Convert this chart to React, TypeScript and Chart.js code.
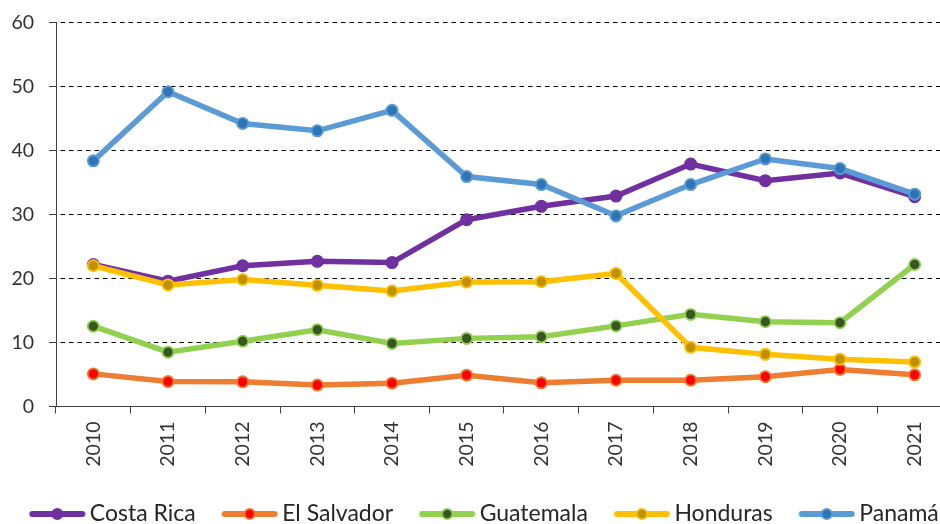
import React, { useEffect, useRef } from "react";
import { Chart, registerables } from "chart.js";

Chart.register(...registerables);

const years = ["2010", "2011", "2012", "2013", "2014", "2015", "2016", "2017", "2018", "2019", "2020", "2021"];
const seriesNames = ["Costa Rica", "El Salvador", "Guatemala", "Honduras", "Panamá"];
const costaRica = [22.2, 19.6, 22.0, 22.7, 22.5, 29.2, 31.3, 32.9, 37.9, 35.3, 36.5, 32.8];
const elSalvador = [5.1, 3.9, 3.85, 3.35, 3.65, 4.9, 3.7, 4.1, 4.1, 4.65, 5.8, 4.95];
const guatemala = [12.55, 8.5, 10.2, 12.0, 9.85, 10.65, 10.9, 12.6, 14.4, 13.25, 13.1, 22.2];
const honduras = [22.0, 19.0, 19.85, 18.95, 18.05, 19.45, 19.5, 20.8, 9.25, 8.15, 7.4, 6.95];
const panama = [38.4, 49.2, 44.25, 43.1, 46.3, 35.95, 34.7, 29.8, 34.7, 38.7, 37.2, 33.2];
const yMin = 0;
const yMax = 60;
const yStep = 10;

const lineColors = ["#7030A0", "#ED7D31", "#92D050", "#FFC000", "#5B9BD5"];
const pointFills = ["#7030A0", "#FF0000", "#375623", "#BF9000", "#2E75B6"];

const FONT = "Lato, 'Open Sans', sans-serif";

function makeLegendImage(line: string, fill: string): HTMLCanvasElement {
  const c = document.createElement("canvas");
  c.width = 80;
  c.height = 16;
  const ctx = c.getContext("2d")!;
  ctx.strokeStyle = line;
  ctx.lineWidth = 6;
  ctx.lineCap = "round";
  ctx.beginPath();
  ctx.moveTo(26.5, 8);
  ctx.lineTo(76.5, 8);
  ctx.stroke();
  ctx.beginPath();
  ctx.arc(51.5, 8, 5.2, 0, Math.PI * 2);
  ctx.fillStyle = fill;
  ctx.fill();
  ctx.lineWidth = 1.8;
  ctx.strokeStyle = line;
  ctx.stroke();
  return c;
}

export default function App() {
  const ref = useRef<HTMLCanvasElement | null>(null);

  useEffect(() => {
    if (!ref.current) return;
    const values = [costaRica, elSalvador, guatemala, honduras, panama];
    const images = lineColors.map((c, i) => makeLegendImage(c, pointFills[i]));
    const datasets = seriesNames.map((name, i) => ({
      label: name,
      data: values[i],
      borderColor: lineColors[i],
      backgroundColor: lineColors[i],
      borderWidth: 5.5,
      pointRadius: 5.6,
      pointBorderWidth: 1.8,
      pointBackgroundColor: pointFills[i],
      pointBorderColor: lineColors[i],
      tension: 0,
      fill: false,
      order: seriesNames.length - i,
    }));
    const tickFont = { family: FONT, size: 19.5 };
    const chart = new Chart(ref.current, {
      type: "line",
      data: { labels: years, datasets },
      options: {
        responsive: false,
        animation: false,
        layout: { padding: { left: 0, right: 18, top: 22.7, bottom: 0 } },
        plugins: {
          tooltip: { enabled: false },
          legend: {
            position: "bottom",
            maxHeight: 31.5,
            labels: {
              usePointStyle: true,
              pointStyleWidth: 65,
              padding: 10,
              color: "#262626",
              font: { family: FONT, size: 23 },
              generateLabels: (ch: any) =>
                ch.data.datasets.map((ds: any, i: number) => ({
                  text: ds.label,
                  pointStyle: images[i],
                  fillStyle: lineColors[i],
                  strokeStyle: lineColors[i],
                  lineWidth: 0,
                  hidden: false,
                  datasetIndex: i,
                  fontColor: "#262626",
                })),
            },
          },
        },
        scales: {
          x: {
            type: "category",
            offset: true,
            grid: {
              offset: true,
              drawOnChartArea: false,
              drawTicks: true,
              tickLength: 7,
              color: "#404040",
              lineWidth: 1,
            },
            border: { display: true, color: "#404040", width: 1 },
            ticks: {
              autoSkip: false,
              minRotation: 90,
              maxRotation: 90,
              padding: 8,
              color: "#333333",
              font: tickFont,
            },
            afterFit: (s: any) => {
              s.height = 86;
              s.paddingLeft = 0;
              s.paddingRight = 0;
            },
          },
          y: {
            min: yMin,
            max: yMax,
            ticks: { stepSize: yStep, padding: 15, color: "#333333", font: tickFont },
            grid: {
              color: "#000000",
              lineWidth: 1,
              drawTicks: true,
              tickLength: 7,
              tickColor: "#404040",
              tickBorderDash: [],
            },
            border: { display: true, color: "#404040", width: 1, dash: [4.5, 4], dashOffset: 5 },
            afterFit: (s: any) => {
              s.width = 56;
              s.paddingTop = 0;
              s.paddingBottom = 0;
            },
          },
        },
      },
    });
    return () => chart.destroy();
  }, []);

  return (
    <div
      style={{
        position: "absolute",
        left: 0,
        top: 0,
        width: 940,
        height: 524,
        overflow: "hidden",
        background: "#ffffff",
      }}
    >
      <canvas ref={ref} width={970} height={524} style={{ display: "block", width: 970, height: 524 }} />
    </div>
  );
}
